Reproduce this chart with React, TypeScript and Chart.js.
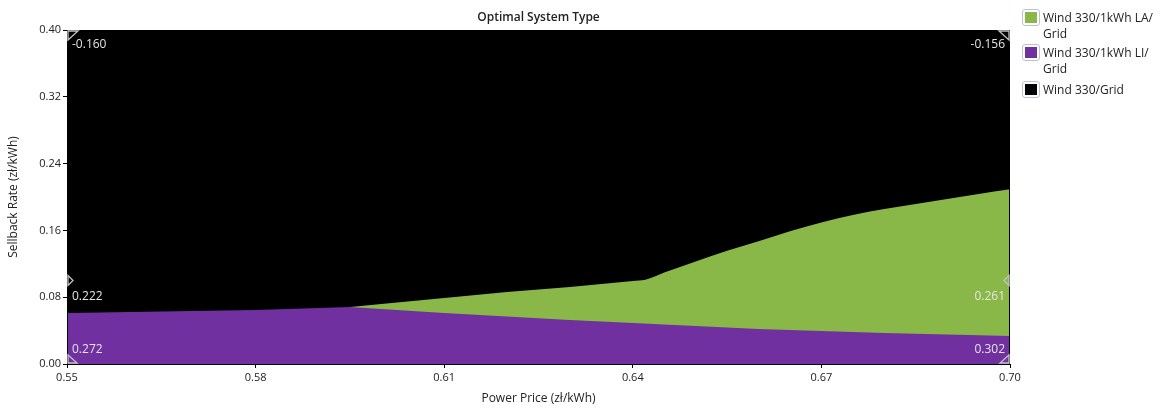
import React, { useEffect, useRef } from "react";
import { Chart, registerables } from "chart.js";

Chart.register(...registerables);

// ---------- data ----------
const chartTitle = "Optimal System Type";
const xAxisTitle = "Power Price (zł/kWh)";
const yAxisTitle = "Sellback Rate (zł/kWh)";

const seriesNames = ["Wind 330/1kWh LA/ Grid", "Wind 330/1kWh LI/ Grid", "Wind 330/Grid"];
const legendLines = [["Wind 330/1kWh LA/", "Grid"], ["Wind 330/1kWh LI/", "Grid"], ["Wind 330/Grid"]];
const seriesColors = ["#8ab848", "#7030a0", "#000000"];

// purple region (Wind 330/1kWh LI/Grid): upper boundary
const purplePrice = [0.55, 0.56, 0.57, 0.58, 0.59, 0.595, 0.6, 0.61, 0.62, 0.63, 0.64, 0.65, 0.66, 0.67, 0.68, 0.69, 0.7];
const purpleRate = [0.0611, 0.0623, 0.0635, 0.0647, 0.067, 0.0683, 0.0659, 0.061, 0.0569, 0.0527, 0.049, 0.0455, 0.0419, 0.0395, 0.0371, 0.0353, 0.0335];

// green region (Wind 330/1kWh LA/Grid): upper boundary
const greenPrice = [0.595, 0.6, 0.61, 0.62, 0.63, 0.64, 0.642, 0.645, 0.65, 0.655, 0.66, 0.665, 0.67, 0.675, 0.68, 0.685, 0.69, 0.695, 0.7];
const greenRate = [0.0683, 0.0719, 0.079, 0.0862, 0.0922, 0.0994, 0.1008, 0.1095, 0.1228, 0.1357, 0.147, 0.159, 0.1695, 0.1784, 0.1856, 0.1916, 0.1976, 0.2036, 0.2092];

// black region (Wind 330/Grid): fills the rest
const gridPrice = [0.55, 0.7];
const gridRate = [0.4, 0.4];

const xMin = 0.55, xMax = 0.7, xStep = 0.03;
const yMin = 0, yMax = 0.4, yStep = 0.08;

// slider markers & values at the plot edges
const markerRates = [0.4, 0.1, 0.0];
const leftValues = ["-0.160", "0.222", "0.272"];
const rightValues = ["-0.156", "0.261", "0.302"];

const FONT = "'Open Sans', 'Noto Sans', sans-serif";

const pts = (xs: number[], ys: number[]) => xs.map((x, i) => ({ x, y: ys[i] }));

const overlayPlugin = {
  id: "overlay",
  afterDatasetsDraw(chart: any) {
    const { ctx, chartArea: a, scales } = chart;
    const ys = scales.y;
    ctx.save();
    // frame
    ctx.strokeStyle = "#000";
    ctx.lineWidth = 1;
    ctx.strokeRect(a.left + 0.5, a.top + 0.5, a.right - a.left - 1, a.bottom - a.top);
    // markers
    ctx.strokeStyle = "#c4c4c4";
    ctx.lineWidth = 1.3;
    const yTop = ys.getPixelForValue(markerRates[0]);
    const yMid = ys.getPixelForValue(markerRates[1]);
    const yBot = ys.getPixelForValue(markerRates[2]);
    const L = a.left + 1, R = a.right - 1;
    const tri = (p: number[][]) => {
      ctx.beginPath();
      ctx.moveTo(p[0][0], p[0][1]);
      ctx.lineTo(p[1][0], p[1][1]);
      ctx.lineTo(p[2][0], p[2][1]);
      ctx.closePath();
      ctx.stroke();
    };
    tri([[L, yTop + 1], [L + 10, yTop + 1], [L, yTop + 10]]);
    tri([[R, yTop + 1], [R - 10, yTop + 1], [R, yTop + 10]]);
    tri([[L, yMid - 5], [L + 5, yMid], [L, yMid + 5]]);
    tri([[R, yMid - 5], [R - 5, yMid], [R, yMid + 5]]);
    tri([[L, yBot - 1], [L, yBot - 9], [L + 9, yBot - 1]]);
    tri([[R, yBot - 1], [R, yBot - 9], [R - 9, yBot - 1]]);
    // values
    ctx.fillStyle = "#e4e4e4";
    ctx.font = `12px ${FONT}`;
    ctx.textBaseline = "middle";
    const offs = [15, 16, -14];
    const yPos = [yTop, yMid, yBot];
    for (let i = 0; i < 3; i++) {
      ctx.textAlign = "left";
      ctx.fillText(leftValues[i], a.left + 5, yPos[i] + offs[i]);
      ctx.textAlign = "right";
      ctx.fillText(rightValues[i], a.right - 5, yPos[i] + offs[i]);
    }
    ctx.restore();
  },
};

function Legend() {
  const tops = [10, 45, 82];
  return (
    <>
      {legendLines.map((lines, i) => (
        <div key={i} style={{ position: "absolute", left: 1022, top: tops[i], fontFamily: FONT, fontSize: 12, lineHeight: "16px", color: "#222" }}>
          <div style={{ position: "absolute", left: 0, top: -1, width: 18, height: 17, border: "1px solid #b9c3d3", borderRadius: 3, background: "#fff", boxSizing: "border-box" }}>
            <div style={{ position: "absolute", left: 2, top: 2, width: 12, height: 11, background: seriesColors[i] }} />
          </div>
          <div style={{ position: "absolute", left: 21, top: 0, whiteSpace: "nowrap" }} title={seriesNames[i]}>
            {lines.map((l, j) => (
              <div key={j}>{l}</div>
            ))}
          </div>
        </div>
      ))}
    </>
  );
}

export default function App() {
  const ref = useRef<HTMLCanvasElement>(null);
  useEffect(() => {
    if (!ref.current) return;
    const chart = new Chart(ref.current, {
      type: "line",
      data: {
        datasets: [
          {
            label: seriesNames[0],
            data: pts(greenPrice, greenRate),
            backgroundColor: seriesColors[0],
            borderColor: seriesColors[0],
            borderWidth: 0,
            pointRadius: 0,
            cubicInterpolationMode: "monotone",
            fill: "origin",
            order: 1,
          },
          {
            label: seriesNames[1],
            data: pts(purplePrice, purpleRate),
            backgroundColor: seriesColors[1],
            borderColor: seriesColors[1],
            borderWidth: 0,
            pointRadius: 0,
            fill: "origin",
            order: 0,
          },
          {
            label: seriesNames[2],
            data: pts(gridPrice, gridRate),
            backgroundColor: seriesColors[2],
            borderColor: seriesColors[2],
            borderWidth: 0,
            pointRadius: 0,
            fill: "origin",
            order: 2,
          },
        ],
      },
      options: {
        animation: false,
        responsive: false,
        layout: { padding: { left: 0, right: 157, top: 0, bottom: 0 } },
        plugins: {
          legend: { display: false },
          tooltip: { enabled: false },
          title: {
            display: true,
            text: chartTitle,
            fullSize: false,
            color: "#222",
            font: { family: FONT, size: 12, weight: "600" },
            padding: { top: 10, bottom: 5.6 },
          },
        },
        scales: {
          x: {
            type: "linear",
            min: xMin,
            max: xMax,
            afterFit: (s: any) => { s.height = 47; },
            ticks: {
              stepSize: xStep,
              color: "#222",
              font: { family: FONT, size: 11 },
              padding: 3,
              maxRotation: 0,
              callback: (v: any) => Number(v).toFixed(2),
            },
            grid: { display: true, drawOnChartArea: false, drawTicks: true, tickLength: 4, color: "#000" },
            border: { display: true, color: "#000" },
            title: { display: true, text: xAxisTitle, color: "#222", font: { family: FONT, size: 12 }, padding: { top: 0, bottom: 5 } },
          },
          y: {
            type: "linear",
            min: yMin,
            max: yMax,
            afterFit: (s: any) => { s.width = 67; },
            ticks: {
              stepSize: yStep,
              color: "#222",
              font: { family: FONT, size: 11 },
              padding: 2,
              callback: (v: any) => Number(v).toFixed(2),
            },
            grid: { display: true, drawOnChartArea: false, drawTicks: true, tickLength: 4, color: "#000" },
            border: { display: true, color: "#000" },
            title: { display: true, text: yAxisTitle, color: "#222", font: { family: FONT, size: 12 }, padding: { top: 6, bottom: 0 } },
          },
        },
      },
      plugins: [overlayPlugin],
    });
    return () => chart.destroy();
  }, []);
  return (
    <div style={{ position: "fixed", left: 0, top: 0, width: 1167, height: 411, background: "#fff", overflow: "hidden" }}>
      <canvas ref={ref} width={1167} height={411} style={{ position: "absolute", left: 0, top: 0 }} />
      <Legend />
    </div>
  );
}
